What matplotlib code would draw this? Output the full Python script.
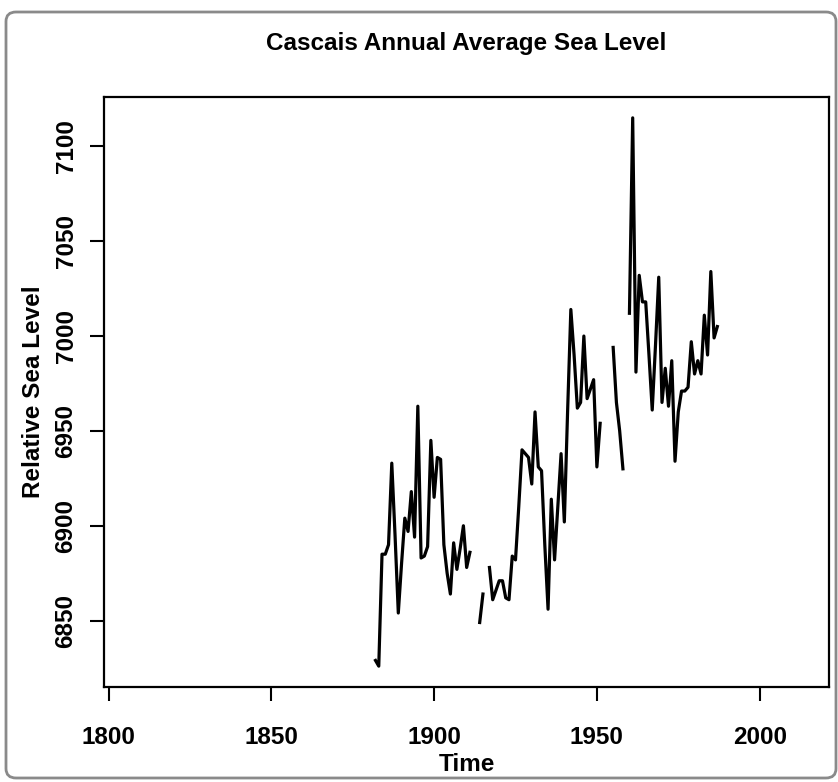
import numpy as np
import matplotlib
matplotlib.use("Agg")
import matplotlib.pyplot as plt
from matplotlib.patches import FancyBboxPatch

plt.rcParams['font.family'] = ['Liberation Sans', 'DejaVu Sans']

years = list(range(1882, 1988))
nan = np.nan
sea_level = [
    6829, 6826, 6885, 6885, 6890, 6933, 6895, 6854, 6880, 6904,   # 1882-1891
    6897, 6918, 6894, 6963, 6883, 6884, 6889, 6945, 6915, 6936,   # 1892-1901
    6935, 6890, 6875, 6864, 6891, 6877, 6888, 6900, 6878, 6886,   # 1902-1911
    nan, nan, 6849, 6864, nan, 6878, 6861, 6866, 6871, 6871,      # 1912-1921
    6862, 6861, 6884, 6882, 6910, 6940, 6938, 6936, 6922, 6960,   # 1922-1931
    6931, 6929, 6890, 6856, 6914, 6882, 6910, 6938, 6902, 6960,   # 1932-1941
    7014, 6990, 6962, 6965, 7000, 6967, 6972, 6977, 6931, 6954,   # 1942-1951
    nan, nan, nan, 6994, 6965, 6950, 6930, nan, 7012, 7115,       # 1952-1961
    6981, 7032, 7018, 7018, 6990, 6961, 6995, 7031, 6965, 6983,   # 1962-1971
    6963, 6987, 6934, 6960, 6971, 6971, 6973, 6997, 6980, 6987,   # 1972-1981
    6980, 7011, 6990, 7034, 6999, 7005,                           # 1982-1987
]

xticks = [1800, 1850, 1900, 1950, 2000]
yticks = [6850, 6900, 6950, 7000, 7050, 7100]

fig = plt.figure(figsize=(8.38, 7.82), dpi=100)
fig.patch.set_facecolor('white')

# rounded frame around whole figure
frame = FancyBboxPatch((6/838, 4/782), 830/838, 766/782,
                       boxstyle="round,pad=0,rounding_size=0.012",
                       transform=fig.transFigure, facecolor='white',
                       edgecolor='#8a8a8a', linewidth=2.0, zorder=-10)
fig.patches.append(frame)

ax = fig.add_axes([104/838, 1 - 687/782, (829 - 104)/838, (687 - 97)/782])
ax.plot(years, sea_level, color='black', linewidth=2.3)

ax.set_xlim(1798.6, 2021.3)
ax.set_ylim(6815, 7126)
ax.set_xticks(xticks)
ax.set_yticks(yticks)
ax.set_xticklabels([str(t) for t in xticks], fontsize=17.5, fontweight='bold')
ax.set_yticklabels([str(t) for t in yticks], fontsize=17.5, fontweight='bold',
                   rotation=90, va='center')
ax.tick_params(axis='x', length=10, width=1.5, direction='out', pad=18)
ax.tick_params(axis='y', length=10, width=1.5, direction='out', pad=9)
for s in ax.spines.values():
    s.set_linewidth(1.6)

ax.set_title('Cascais Annual Average Sea Level', fontsize=17.5, fontweight='bold', pad=34)
ax.set_xlabel('Time', fontsize=17.5, fontweight='bold', labelpad=3)
ax.set_ylabel('Relative Sea Level', fontsize=17.5, fontweight='bold', labelpad=7)

fig.savefig('out.png', dpi=100, facecolor='white')
